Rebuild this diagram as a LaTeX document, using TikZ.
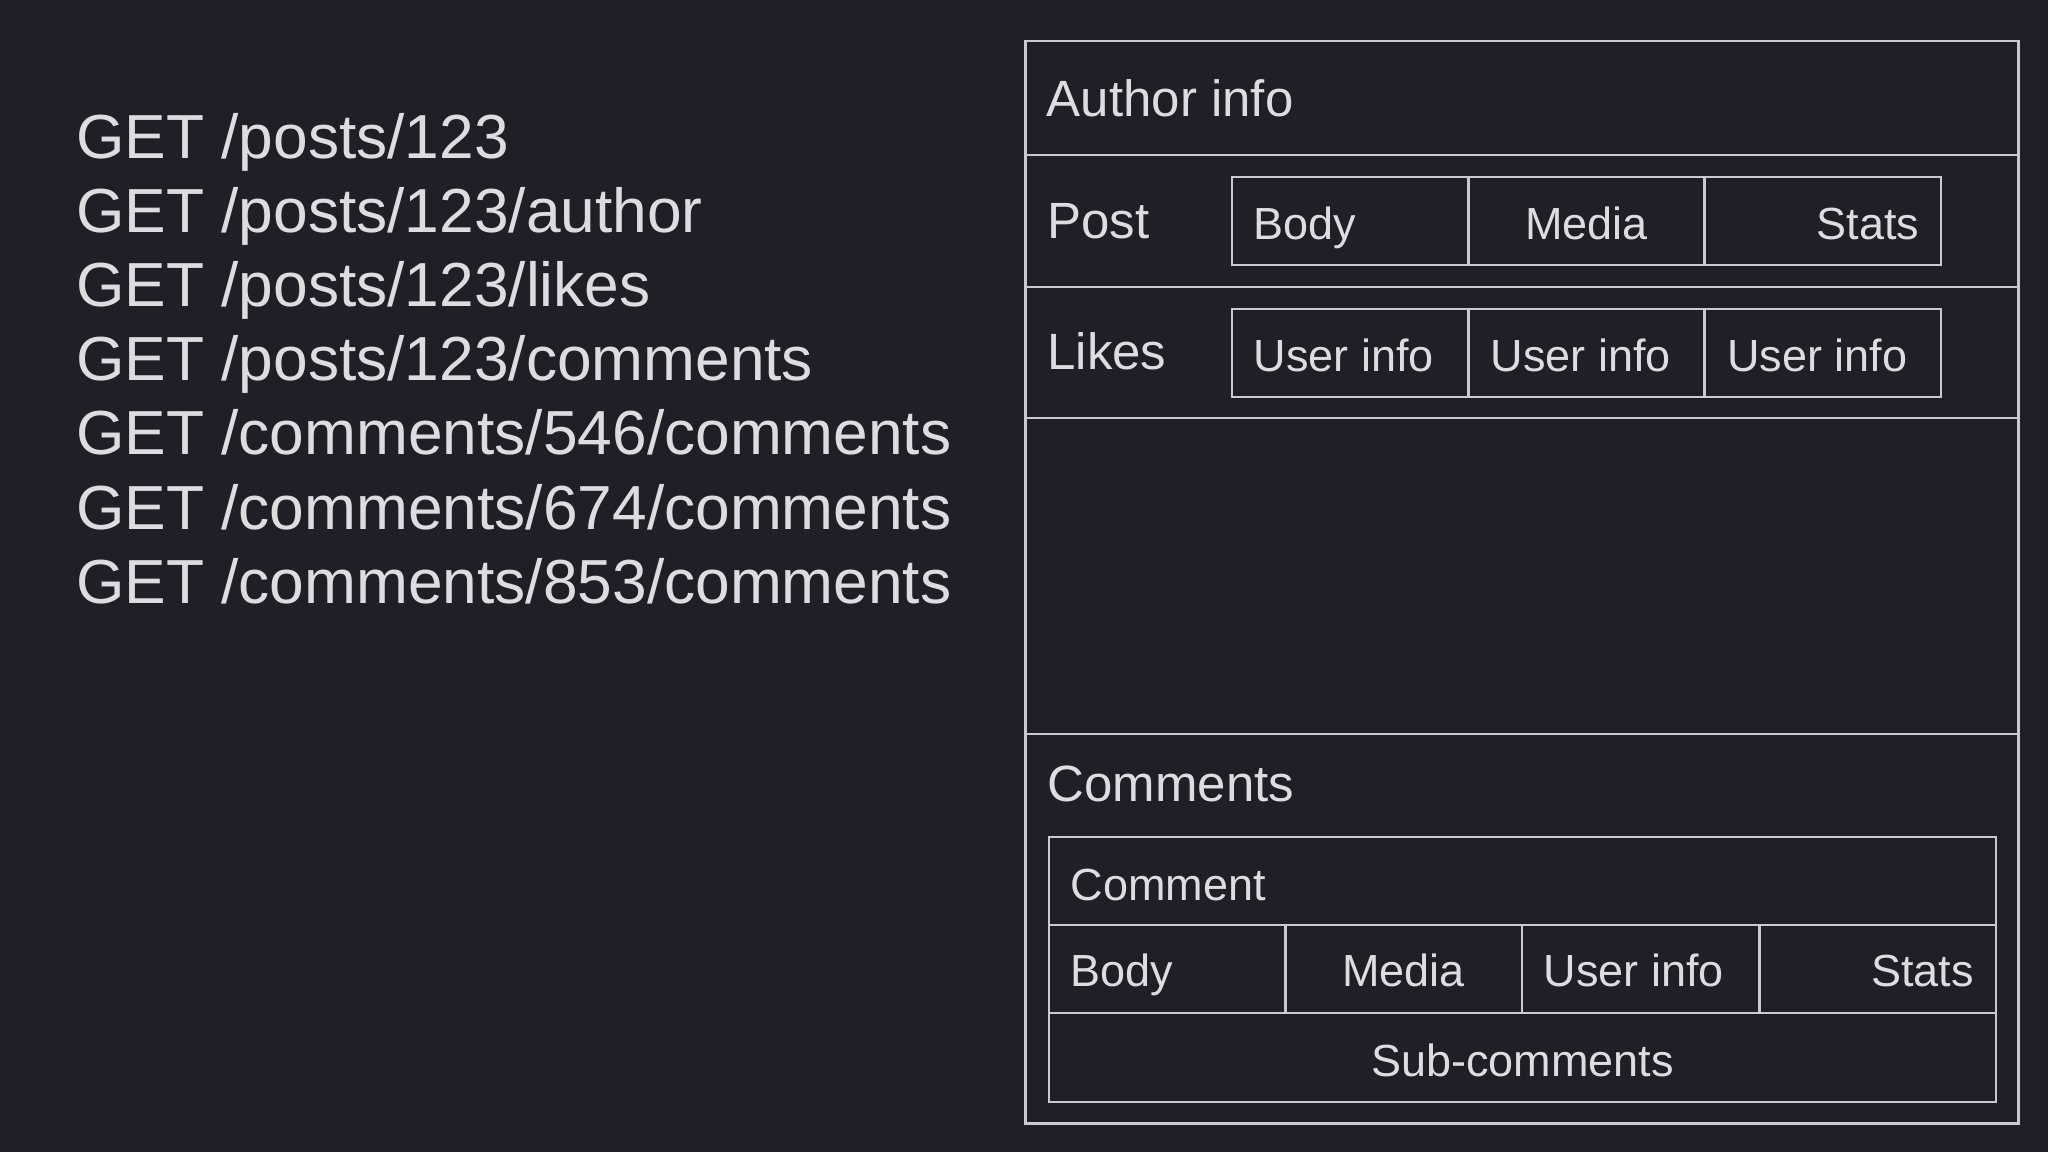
\documentclass[tikz,border=0pt]{standalone}
\usepackage{fontspec}
\setmainfont{Liberation Sans}
\usetikzlibrary{positioning}
\definecolor{bgcol}{HTML}{1F2027}
\definecolor{txtcol}{HTML}{DCDDE1}
\definecolor{linecol}{HTML}{C8CAD0}
\tikzset{every picture/.style={line width=0.75pt}}
\tikzstyle{req}=[anchor=base west,inner sep=0pt,text=txtcol,font=\fontsize{17.7pt}{20pt}\selectfont]
\tikzstyle{lbl}=[anchor=base west,inner sep=0pt,text=txtcol,font=\fontsize{14.5pt}{17pt}\selectfont]
\tikzstyle{cell}=[anchor=base west,inner sep=0pt,text=txtcol,font=\fontsize{12.8pt}{15pt}\selectfont]
\tikzstyle{frame}=[draw=linecol]
\begin{document}
\begin{tikzpicture}[x=0.01cm,y=-0.01cm]
\fill[bgcol] (0,0) rectangle (2048,1152);
\useasboundingbox (0,0) rectangle (2048,1152);
% requests
\node[req] (r1) at (75,158.6) {GET /posts/123};
\node[req] (r2) at (75,232.7) {GET /posts/123/author};
\node[req] (r3) at (75,306.8) {GET /posts/123/likes};
\node[req] (r4) at (75,380.9) {GET /posts/123/comments};
\node[req] (r5) at (75,455.0) {GET /comments/546/comments};
\node[req] (r6) at (75,529.1) {GET /comments/674/comments};
\node[req] (r7) at (75,603.2) {GET /comments/853/comments};
% page layout
\draw[frame] (1025.5,41) rectangle (2018.5,1123.5);
\draw[frame] (1025.5,155) -- (2018.5,155);
\draw[frame] (1025.5,287) -- (2018.5,287);
\draw[frame] (1025.5,418) -- (2018.5,418);
\draw[frame] (1025.5,734) -- (2018.5,734);
\node[lbl] (author) at (1045.5,116.7) {Author info};
% post row
\draw[frame] (1232,177) rectangle (1941,265);
\draw[frame] (1468.6,177) -- (1468.6,265);
\draw[frame] (1704.5,177) -- (1704.5,265);
\node[lbl] (post) at (1046,238.5) {Post};
\node[cell] (pbody) at (1252.5,240) {Body};
\node[cell,anchor=base] (pmedia) at (1586.5,240) {Media};
\node[cell,anchor=base east] (pstats) at (1920.5,240) {Stats};
% likes row
\draw[frame] (1232,309) rectangle (1941,397);
\draw[frame] (1468.6,309) -- (1468.6,397);
\draw[frame] (1704.5,309) -- (1704.5,397);
\node[lbl] (likes) at (1046,370) {Likes};
\node[cell] (u1) at (1252.5,371.5) {User info};
\node[cell] (u2) at (1489.5,371.5) {User info};
\node[cell] (u3) at (1726,371.5) {User info};
% comments
\node[lbl] (comments) at (1046.5,801.7) {Comments};
\draw[frame] (1049,837) rectangle (1996,1102);
\draw[frame] (1049,925) -- (1996,925);
\draw[frame] (1049,1013) -- (1996,1013);
\draw[frame] (1285.4,925) -- (1285.4,1013);
\draw[frame] (1522,925) -- (1522,1013);
\draw[frame] (1759.4,925) -- (1759.4,1013);
\node[cell] (comment) at (1069.5,900) {Comment};
\node[cell] (cbody) at (1069.5,986.7) {Body};
\node[cell,anchor=base] (cmedia) at (1403.7,986.7) {Media};
\node[cell] (cuser) at (1542.5,986.7) {User info};
\node[cell,anchor=base east] (cstats) at (1975,986.7) {Stats};
\node[cell,anchor=base] (sub) at (1522.4,1076) {Sub-comments};
\end{tikzpicture}
\end{document}
